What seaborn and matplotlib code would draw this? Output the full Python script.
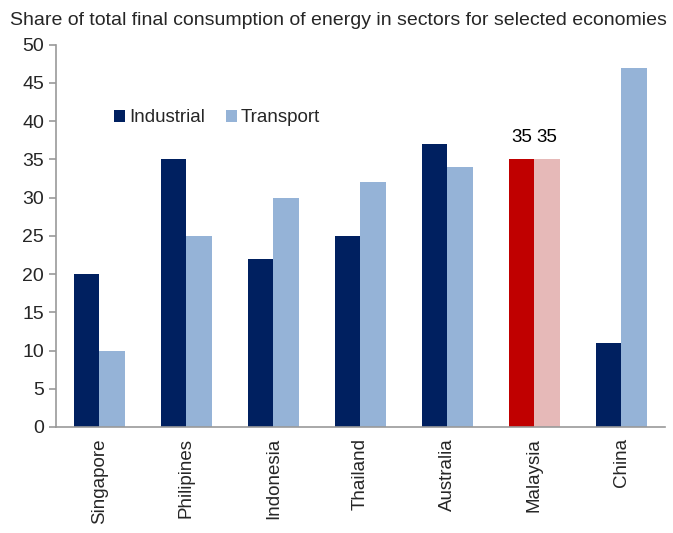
import matplotlib
matplotlib.use("Agg")
import matplotlib.pyplot as plt
import pandas as pd
import seaborn as sns
from matplotlib.patches import Patch

economies = ["Singapore", "Philipines", "Indonesia", "Thailand", "Australia", "Malaysia", "China"]
industrial = [20, 35, 22, 25, 37, 35, 11]
transport = [10, 25, 30, 32, 34, 35, 47]
sectors = ["Industrial", "Transport"]

df = pd.DataFrame({
    "economy": economies * 2,
    "sector": ["Industrial"] * len(economies) + ["Transport"] * len(economies),
    "share": industrial + transport,
})

sns.set_theme(style="white")
plt.rcParams["font.family"] = ["Liberation Sans", "DejaVu Sans"]

fig = plt.figure(figsize=(6.73, 5.33), dpi=100)
ax = fig.add_axes([0.083, 0.199, 0.905, 0.717])

palette = {"Industrial": "#002060", "Transport": "#95B3D7"}
sns.barplot(data=df, x="economy", y="share", hue="sector", palette=palette,
            width=0.58, saturation=1, linewidth=0, ax=ax, legend=False)

# highlight Malaysia
mi = economies.index("Malaysia")
n = len(economies)
ind_bar = ax.patches[mi]
tr_bar = ax.patches[n + mi]
ind_bar.set_facecolor("#C00000")
tr_bar.set_facecolor("#E6B9B8")
for bar in (ind_bar, tr_bar):
    ax.annotate(f"{bar.get_height():.0f}", (bar.get_x() + bar.get_width() / 2, bar.get_height()),
                xytext=(0, 10), textcoords="offset points", ha="center", va="bottom",
                fontsize=13.5, color="black")

ax.set_ylim(0, 50)
ax.set_yticks(range(0, 51, 5))
ax.set_xlim(-0.5, n - 0.5)
ax.set_xlabel("")
ax.set_ylabel("")
ax.set_xticks(range(n))
ax.set_xticklabels(economies, rotation=90, fontsize=13.5)
ax.set_xticks([i - 0.5 for i in range(n + 1)], minor=True)
ax.tick_params(axis="x", which="major", length=0, pad=8)
ax.tick_params(axis="x", which="minor", length=5, color="#999999", width=1.2, direction="out")
ax.tick_params(axis="y", length=5, color="#999999", width=1.2, direction="out", labelsize=14, left=True)

for side in ("top", "right"):
    ax.spines[side].set_visible(False)
for side in ("left", "bottom"):
    ax.spines[side].set_color("#999999")
    ax.spines[side].set_linewidth(1.2)

handles = [Patch(facecolor=palette[s], edgecolor="none") for s in sectors]
ax.legend(handles, sectors, loc="upper left", bbox_to_anchor=(0.068, 0.875), ncol=2,
          frameon=False, fontsize=13.5, handlelength=0.6, handleheight=0.6,
          handletextpad=0.2, columnspacing=1.1)

fig.text(0.015, 0.962, "Share of total final consumption of energy in sectors for selected economies",
         fontsize=14, ha="left", va="center")

fig.savefig("out.png", dpi=100)
